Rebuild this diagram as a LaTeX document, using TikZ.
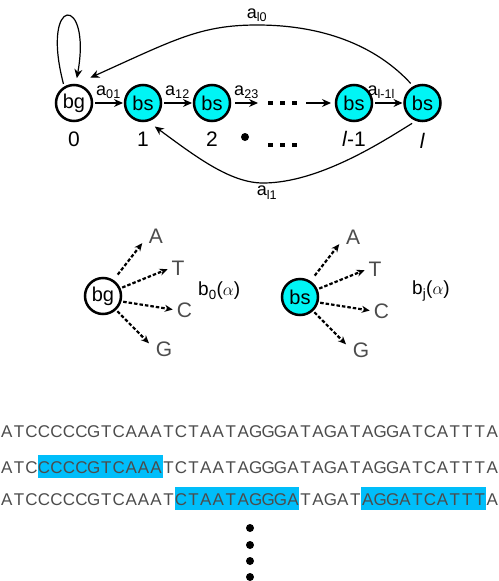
\documentclass[tikz,border=0pt]{standalone}
\usepackage{fontspec}
\setmainfont{Liberation Sans}
\usepackage{tikz}
\usetikzlibrary{arrows.meta, positioning, calc, fit, backgrounds}
\definecolor{bscyan}{RGB}{0,245,245}
\definecolor{hlblue}{RGB}{0,190,250}
\newcommand{\seqline}{A,T,C,C,C,C,C,G,T,C,A,A,A,T,C,T,A,A,T,A,G,G,G,A,T,A,G,A,T,A,G,G,A,T,C,A,T,T,T,A}

\begin{document}
\begin{tikzpicture}[
  x=1pt, y=-1pt,
  hmmstate/.style={circle, draw, line width=2.5pt, minimum size=36pt, inner sep=0pt, outer sep=0pt, font=\fontsize{20}{24}\selectfont},
  bgstate/.style={hmmstate, fill=white},
  bsstate/.style={hmmstate, fill=bscyan},
  idx/.style={inner sep=0pt, text height=14.5pt, text depth=0pt, font=\fontsize{21}{24}\selectfont},
  arr/.style={-{Stealth[length=9pt, width=8pt]}, line width=1.2pt},
  lbl/.style={inner sep=0pt, font=\fontsize{18}{20}\selectfont},
  dotarr/.style={-{Stealth[length=8pt, width=7pt]}, line width=2.2pt, dash pattern=on 3.5pt off 2pt},
  nuc/.style={inner sep=1pt, text=black!70, font=\fontsize{21}{24}\selectfont},
  emit/.style={inner sep=0pt, anchor=west, font=\fontsize{19}{22}\selectfont},
  seqch/.style={anchor=base, minimum width=12.45pt, inner xsep=0pt, inner ysep=0pt, text height=17.5pt, text depth=4.5pt, text=black!70, font=\fontsize{17}{20}\selectfont},
  hl/.style={fill=hlblue, inner sep=0pt},
  dotbar/.style={minimum width=30pt, minimum height=5pt, inner sep=0pt}
]
  \useasboundingbox (0,0) rectangle (498,581);

  % Chain of states
  \node[bgstate] (s0) at (74,103) {bg};
  \node[bsstate, right=33pt of s0] (s1) {bs};
  \node[bsstate, right=33pt of s1] (s2) {bs};
  \node[dotbar, right=37pt of s2] (hdots) {};
  \node[bsstate, right=106pt of s2] (sl1) {bs};
  \node[bsstate, right=32.5pt of sl1] (sl) {bs};

  % Positions
  \node[idx, below=11pt of s0] (n0) {0};
  \node[idx, below=11pt of s1] (n1) {1};
  \node[idx, below=11pt of s2] (n2) {2};
  \node[circle, fill, inner sep=0pt, minimum size=8pt] (bdot) at (245,137) {};
  \node[dotbar, below=37pt of hdots] (ldots) {};
  \node[idx, below=11pt of sl1] (nl1) {\textit{l}-1};
  \node[idx, below=13pt of sl] (nl) {\textit{l}};
  \foreach \d in {hdots, ldots}
    \foreach \dx in {-12,0,12}
      \fill ([xshift=\dx pt]\d.center) +(-2.5,-2) rectangle +(2.5,2);

  % Transitions
  \draw[arr, shorten <=3pt, shorten >=2pt] (s0) -- (s1) node[lbl, midway, above=4pt] {a\textsubscript{01}};
  \draw[arr, shorten <=3pt, shorten >=2pt] (s1) -- (s2) node[lbl, midway, above=4pt] {a\textsubscript{12}};
  \draw[arr, shorten <=5pt, shorten >=9pt] (s2) -- (hdots) node[lbl, midway, above=4pt, xshift=-2pt] {a\textsubscript{23}};
  \draw[arr, shorten <=9pt, shorten >=5pt] (hdots) -- (sl1);
  \draw[arr, shorten <=3pt, shorten >=2pt] (sl1) -- (sl) node[lbl, midway, above=4pt, xshift=-7pt] {a\textsubscript{l-1l}};
  \draw[arr, shorten <=4pt, shorten >=7pt] (s0.122) .. controls (40,-6) and (92,-6) .. (s0.85);

  \coordinate (top0) at (257,25);
  \draw[arr, shorten <=5pt, shorten >=18pt] (sl.118) .. controls (380,50) and (330,25) .. (top0)
    .. controls (200,25) and (174,40) .. (s0.north);
  \node[lbl, above=3pt of top0] (al0) {a\textsubscript{l0}};

  \coordinate (bot1) at (263,183);
  \draw[arr, shorten <=6pt, shorten >=10pt] (sl.253) .. controls (385,140) and (320,183) .. (bot1)
    .. controls (230,183) and (195,156) .. (s1.-78);
  \node[lbl, below=3pt of bot1, xshift=4pt] (al1) {a\textsubscript{l1}};

  % Emissions
  \foreach \st/\sty/\cx/\cy/\bx/\sub in {bg/bgstate/103/296/198/0, bs/bsstate/300/297/412/j} {
    \node[\sty] (e-\st) at (\cx,\cy) {\st};
    \foreach \nc/\dx/\dy/\ang/\sa/\sb in {A/53/-60/57/8/9, T/75/-28/24/3/3, C/81.5/14/-17/3/3, G/61/53/-47/3/8} {
      \node[nuc] (\nc-\st) at ($(e-\st)+(\dx,\dy)$) {\nc};
      \draw[dotarr, shorten <=\sa pt, shorten >=\sb pt] (e-\st.\ang) -- (\nc-\st.west);
    }
    \node[emit] (b-\st) at (\bx,291) {b\textsubscript{\sub}($\alpha$)};
  }

  % Sequences
  \foreach \row/\yb in {1/437, 2/473, 3/505}
    \foreach \ch [count=\ci from 0] in \seqline
      \node[seqch] (r\row-\ci) at ({6.7+12.45*\ci}, \yb) {\ch};
  \begin{scope}[on background layer]
    \node[hl, fit=(r2-3)(r2-12)] (hl2) {};
    \node[hl, fit=(r3-14)(r3-23)] (hl3a) {};
    \node[hl, fit=(r3-29)(r3-38)] (hl3b) {};
  \end{scope}
  \foreach \yy in {528,545,561,577}
    \fill (250,\yy) circle (4pt);
\end{tikzpicture}
\end{document}
